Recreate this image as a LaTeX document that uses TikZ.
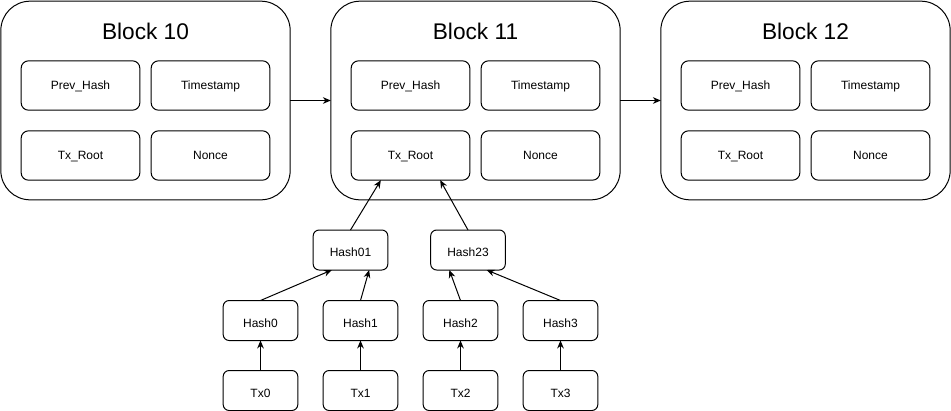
\documentclass[tikz,border=0pt]{standalone}
\usepackage{fontspec}
\setmainfont{Liberation Sans}
\usetikzlibrary{arrows.meta,calc}
\begin{document}
\begin{tikzpicture}[x=0.75pt,y=-0.75pt,
  line width=0.75pt,
  blockbox/.style={draw, rounded corners=22pt, minimum width=217pt, minimum height=149pt, inner sep=0pt, outer sep=0pt},
  fieldbox/.style={draw, rounded corners=5.5pt, minimum width=89pt, minimum height=37pt, inner sep=0pt, outer sep=0pt, font=\fontsize{9}{10}\selectfont, text height=6.6pt, text depth=0pt},
  hashbox/.style={draw, rounded corners=4.5pt, minimum width=56pt, minimum height=30pt, inner sep=0pt, outer sep=0pt, font=\fontsize{9}{10}\selectfont, text height=10.4pt, text depth=0pt},
  title/.style={font=\fontsize{17}{20}\selectfont, inner sep=0pt},
  link/.style={-{Stealth[length=6pt,width=5pt]}}
]
\useasboundingbox (0,0) rectangle (951,411);

% the three blocks of the chain with their header fields
\foreach \n/\ox in {10/0, 11/330, 12/660} {
  \node[blockbox] (blk\n) at (145.5+\ox,100.5) {};
  \node[title] (ttl\n) at (145.5+\ox,31) {Block \n};
  \node[fieldbox] (prev\n) at (80.5+\ox,85.5) {Prev\_Hash};
  \node[fieldbox] (time\n) at (210.5+\ox,85.5) {Timestamp};
  \node[fieldbox] (root\n) at (80.5+\ox,155.5) {Tx\_Root};
  \node[fieldbox] (nonce\n) at (210.5+\ox,155.5) {Nonce};
}
\draw[link] (blk10.east) -- (blk11.west);
\draw[link] (blk11.east) -- (blk12.west);

% Merkle tree below block 11
\node[hashbox] (h01) at (350.5,250) {Hash01};
\node[hashbox] (h23) at (468,250) {Hash23};
\foreach \i/\x in {0/260.5, 1/360.5, 2/460.5, 3/560.5} {
  \node[hashbox] (h\i) at (\x,320.5) {Hash\i};
  \node[hashbox] (tx\i) at (\x,390.5) {Tx\i};
  \draw[link] (tx\i.north) -- (h\i.south);
}
\draw[link] (h0.north) -- ($(h01.south west)!0.25!(h01.south east)$);
\draw[link] (h1.north) -- ($(h01.south west)!0.75!(h01.south east)$);
\draw[link] (h2.north) -- ($(h23.south west)!0.25!(h23.south east)$);
\draw[link] (h3.north) -- ($(h23.south west)!0.75!(h23.south east)$);
\draw[link] (h01.north) -- ($(root11.south west)!0.25!(root11.south east)$);
\draw[link] (h23.north) -- ($(root11.south west)!0.75!(root11.south east)$);
\end{tikzpicture}
\end{document}
